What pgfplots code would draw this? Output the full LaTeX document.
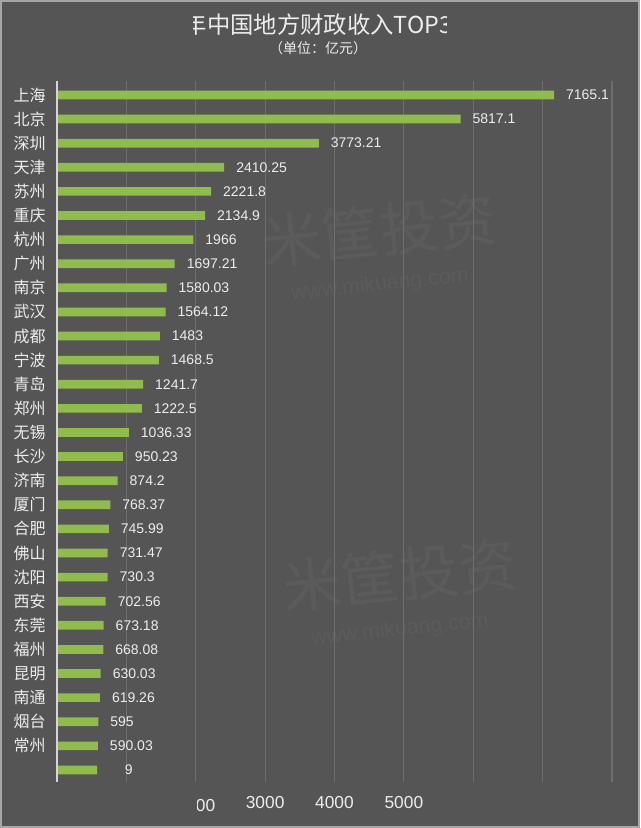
\documentclass[border=0pt]{standalone}
\usepackage{pgfplots}
\usepackage{pgfplotstable}
\pgfplotsset{compat=1.18}
\usepackage{fontspec}
\setmainfont{Liberation Sans}
\newfontfamily\cjk{Noto Sans CJK SC}
\definecolor{bg}{HTML}{555555}
\definecolor{barc}{HTML}{8FBC4A}
\definecolor{gridc}{HTML}{6E6E6E}
\definecolor{axisc}{HTML}{D5D5D5}
\definecolor{txt}{HTML}{EDEDED}
\newcommand{\PX}[2]{(#1*0.75pt,{(828-#2)*0.75pt})}
\pgfplotstableread[col sep=comma]{
name,val,lab
上海,7165.1,7165.1
北京,5817.1,5817.1
深圳,3773.21,3773.21
天津,2410.25,2410.25
苏州,2221.8,2221.8
重庆,2134.9,2134.9
杭州,1966,1966
广州,1697.21,1697.21
南京,1580.03,1580.03
武汉,1564.12,1564.12
成都,1483,1483
宁波,1468.5,1468.5
青岛,1241.7,1241.7
郑州,1222.5,1222.5
无锡,1036.33,1036.33
长沙,950.23,950.23
济南,874.2,874.2
厦门,768.37,768.37
合肥,745.99,745.99
佛山,731.47,731.47
沈阳,730.3,730.3
西安,702.56,702.56
东莞,673.18,673.18
福州,668.08,668.08
昆明,630.03,630.03
南通,619.26,619.26
烟台,595,595
常州,590.03,590.03
{},580,\phantom{00}9
}\data
\begin{document}
\begin{tikzpicture}
\fill[bg] (0,0) rectangle (480pt,621pt);
\draw[gray!70, line width=1.2pt] (0.6pt,0.6pt) rectangle (479.4pt,620.4pt);
% watermark
\node[text=white, opacity=0.04, rotate=6, font=\cjk\fontsize{44pt}{44pt}\selectfont] at \PX{380}{230} {米筐投资};
\node[text=white, opacity=0.04, rotate=6, font=\fontsize{16pt}{16pt}\selectfont] at \PX{380}{285} {www.mikuang.com};
\node[text=white, opacity=0.04, rotate=6, font=\cjk\fontsize{44pt}{44pt}\selectfont] at \PX{400}{575} {米筐投资};
\node[text=white, opacity=0.04, rotate=6, font=\fontsize{16pt}{16pt}\selectfont] at \PX{400}{630} {www.mikuang.com};
% title (cropped as in the reference)
\begin{scope}
\clip \PX{193}{0} rectangle \PX{446}{40};
\node[anchor=west, inner sep=0pt, text=txt, font=\cjk\fontsize{17.5pt}{19pt}\selectfont] at \PX{207}{25} {中国地方财政收入TOP30};
\node[anchor=east, inner sep=0pt, text=txt, font=\cjk\fontsize{17.5pt}{19pt}\selectfont] at \PX{207}{25} {2019年};
\end{scope}
\node[text=txt, font=\cjk\fontsize{10.5pt}{12pt}\selectfont] at \PX{318}{48} {（单位：亿元）};
\begin{axis}[
  at={(42.75pt,34.5pt)}, anchor=south west,
  scale only axis, width=416.25pt, height=526.125pt,
  xmin=0, xmax=8000, ymin=-0.6, ymax=28.5, y dir=reverse,
  xbar, bar width=6.5pt,
  axis line style={draw=none},
  xmajorgrids, grid style={color=gridc, line width=0.8pt},
  major tick length=0pt,
  xtick={1000,2000,3000,4000,5000,6000,7000,8000},
  xticklabels={,,3000,4000,5000,,,},
  xticklabel style={text=txt, font=\fontsize{13pt}{15pt}\selectfont, yshift=-7.5pt},
  ytick={0,...,28},
  yticklabels from table={\data}{name},
  yticklabel style={text=txt, font=\cjk\fontsize{12pt}{14pt}\selectfont, xshift=-5pt},
  point meta=explicit symbolic,
  nodes near coords,
  nodes near coords align={horizontal},
  every node near coord/.append style={text=txt, font=\fontsize{10.5pt}{12pt}\selectfont, anchor=west, xshift=5.5pt},
  clip=false,
]
\addplot[fill=barc, draw=none] table[x=val, y expr=\coordindex, meta=lab] {\data};
\draw[axisc, line width=1.1pt] (axis cs:0,-0.6) -- (axis cs:0,28.5);
\end{axis}
\begin{scope}
\clip \PX{197}{785} rectangle \PX{232}{825};
\node[text=txt, font=\fontsize{13pt}{15pt}\selectfont] at \PX{196}{806} {2000};
\end{scope}
\end{tikzpicture}
\end{document}
